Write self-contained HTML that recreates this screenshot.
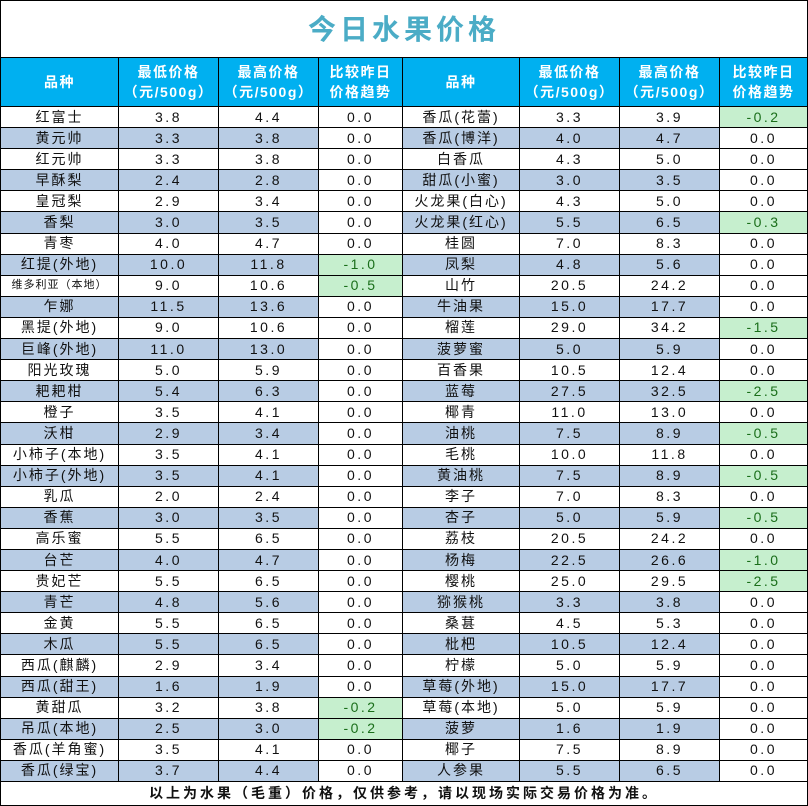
<!DOCTYPE html>
<html><head><meta charset="utf-8"><style>
body{margin:0;background:#fff;width:808px;height:806px;overflow:hidden;font-family:"Liberation Sans","Noto Sans CJK SC",sans-serif;}
table{position:absolute;left:0;top:0;border-collapse:collapse;table-layout:fixed;width:807px;}
td{border:1px solid #000;padding:0;text-align:center;font-size:14px;color:#111;white-space:nowrap;overflow:hidden;line-height:19px;letter-spacing:2px;}
tr.d td{height:20.1px;}
td.n{letter-spacing:2.5px;}
tr.s td.a{background:#B8CCE4;}
td.g{background:#C6EFCE;color:#1a6e1a;}
tr.h td{background:#00B0F0;color:#fff;font-weight:bold;font-size:14px;height:48px;line-height:20px;letter-spacing:1.5px;}
td.t{height:56px;font-size:28px;font-weight:bold;color:#4BACC6;letter-spacing:4px;border-bottom:1px solid #000;}
td.f{height:23px;font-weight:bold;font-size:14px;letter-spacing:3px;}
td.sm{font-size:11px;letter-spacing:1px;}
</style></head><body>
<table>
<colgroup><col style="width:118px"><col style="width:100px"><col style="width:100px"><col style="width:84px"><col style="width:117px"><col style="width:100px"><col style="width:100px"><col style="width:88px"></colgroup>
<tr><td class="t" colspan="8">今日水果价格</td></tr>
<tr class="h"><td>品种</td><td>最低价格<br>（元/500g）</td><td>最高价格<br>（元/500g）</td><td>比较昨日<br>价格趋势</td><td>品种</td><td>最低价格<br>（元/500g）</td><td>最高价格<br>（元/500g）</td><td>比较昨日<br>价格趋势</td></tr>
<tr class="d"><td class="a">红富士</td><td class="a n">3.8</td><td class="a n">4.4</td><td class="n">0.0</td><td class="a">香瓜(花蕾)</td><td class="a n">3.3</td><td class="a n">3.9</td><td class="n g">-0.2</td></tr>
<tr class="d s"><td class="a">黄元帅</td><td class="a n">3.3</td><td class="a n">3.8</td><td class="n">0.0</td><td class="a">香瓜(博洋)</td><td class="a n">4.0</td><td class="a n">4.7</td><td class="n">0.0</td></tr>
<tr class="d"><td class="a">红元帅</td><td class="a n">3.3</td><td class="a n">3.8</td><td class="n">0.0</td><td class="a">白香瓜</td><td class="a n">4.3</td><td class="a n">5.0</td><td class="n">0.0</td></tr>
<tr class="d s"><td class="a">早酥梨</td><td class="a n">2.4</td><td class="a n">2.8</td><td class="n">0.0</td><td class="a">甜瓜(小蜜)</td><td class="a n">3.0</td><td class="a n">3.5</td><td class="n">0.0</td></tr>
<tr class="d"><td class="a">皇冠梨</td><td class="a n">2.9</td><td class="a n">3.4</td><td class="n">0.0</td><td class="a">火龙果(白心)</td><td class="a n">4.3</td><td class="a n">5.0</td><td class="n">0.0</td></tr>
<tr class="d s"><td class="a">香梨</td><td class="a n">3.0</td><td class="a n">3.5</td><td class="n">0.0</td><td class="a">火龙果(红心)</td><td class="a n">5.5</td><td class="a n">6.5</td><td class="n g">-0.3</td></tr>
<tr class="d"><td class="a">青枣</td><td class="a n">4.0</td><td class="a n">4.7</td><td class="n">0.0</td><td class="a">桂圆</td><td class="a n">7.0</td><td class="a n">8.3</td><td class="n">0.0</td></tr>
<tr class="d s"><td class="a">红提(外地)</td><td class="a n">10.0</td><td class="a n">11.8</td><td class="n g">-1.0</td><td class="a">凤梨</td><td class="a n">4.8</td><td class="a n">5.6</td><td class="n">0.0</td></tr>
<tr class="d"><td class="a sm">维多利亚（本地）</td><td class="a n">9.0</td><td class="a n">10.6</td><td class="n g">-0.5</td><td class="a">山竹</td><td class="a n">20.5</td><td class="a n">24.2</td><td class="n">0.0</td></tr>
<tr class="d s"><td class="a">乍娜</td><td class="a n">11.5</td><td class="a n">13.6</td><td class="n">0.0</td><td class="a">牛油果</td><td class="a n">15.0</td><td class="a n">17.7</td><td class="n">0.0</td></tr>
<tr class="d"><td class="a">黑提(外地)</td><td class="a n">9.0</td><td class="a n">10.6</td><td class="n">0.0</td><td class="a">榴莲</td><td class="a n">29.0</td><td class="a n">34.2</td><td class="n g">-1.5</td></tr>
<tr class="d s"><td class="a">巨峰(外地)</td><td class="a n">11.0</td><td class="a n">13.0</td><td class="n">0.0</td><td class="a">菠萝蜜</td><td class="a n">5.0</td><td class="a n">5.9</td><td class="n">0.0</td></tr>
<tr class="d"><td class="a">阳光玫瑰</td><td class="a n">5.0</td><td class="a n">5.9</td><td class="n">0.0</td><td class="a">百香果</td><td class="a n">10.5</td><td class="a n">12.4</td><td class="n">0.0</td></tr>
<tr class="d s"><td class="a">耙耙柑</td><td class="a n">5.4</td><td class="a n">6.3</td><td class="n">0.0</td><td class="a">蓝莓</td><td class="a n">27.5</td><td class="a n">32.5</td><td class="n g">-2.5</td></tr>
<tr class="d"><td class="a">橙子</td><td class="a n">3.5</td><td class="a n">4.1</td><td class="n">0.0</td><td class="a">椰青</td><td class="a n">11.0</td><td class="a n">13.0</td><td class="n">0.0</td></tr>
<tr class="d s"><td class="a">沃柑</td><td class="a n">2.9</td><td class="a n">3.4</td><td class="n">0.0</td><td class="a">油桃</td><td class="a n">7.5</td><td class="a n">8.9</td><td class="n g">-0.5</td></tr>
<tr class="d"><td class="a">小柿子(本地)</td><td class="a n">3.5</td><td class="a n">4.1</td><td class="n">0.0</td><td class="a">毛桃</td><td class="a n">10.0</td><td class="a n">11.8</td><td class="n">0.0</td></tr>
<tr class="d s"><td class="a">小柿子(外地)</td><td class="a n">3.5</td><td class="a n">4.1</td><td class="n">0.0</td><td class="a">黄油桃</td><td class="a n">7.5</td><td class="a n">8.9</td><td class="n g">-0.5</td></tr>
<tr class="d"><td class="a">乳瓜</td><td class="a n">2.0</td><td class="a n">2.4</td><td class="n">0.0</td><td class="a">李子</td><td class="a n">7.0</td><td class="a n">8.3</td><td class="n">0.0</td></tr>
<tr class="d s"><td class="a">香蕉</td><td class="a n">3.0</td><td class="a n">3.5</td><td class="n">0.0</td><td class="a">杏子</td><td class="a n">5.0</td><td class="a n">5.9</td><td class="n g">-0.5</td></tr>
<tr class="d"><td class="a">高乐蜜</td><td class="a n">5.5</td><td class="a n">6.5</td><td class="n">0.0</td><td class="a">荔枝</td><td class="a n">20.5</td><td class="a n">24.2</td><td class="n">0.0</td></tr>
<tr class="d s"><td class="a">台芒</td><td class="a n">4.0</td><td class="a n">4.7</td><td class="n">0.0</td><td class="a">杨梅</td><td class="a n">22.5</td><td class="a n">26.6</td><td class="n g">-1.0</td></tr>
<tr class="d"><td class="a">贵妃芒</td><td class="a n">5.5</td><td class="a n">6.5</td><td class="n">0.0</td><td class="a">樱桃</td><td class="a n">25.0</td><td class="a n">29.5</td><td class="n g">-2.5</td></tr>
<tr class="d s"><td class="a">青芒</td><td class="a n">4.8</td><td class="a n">5.6</td><td class="n">0.0</td><td class="a">猕猴桃</td><td class="a n">3.3</td><td class="a n">3.8</td><td class="n">0.0</td></tr>
<tr class="d"><td class="a">金黄</td><td class="a n">5.5</td><td class="a n">6.5</td><td class="n">0.0</td><td class="a">桑葚</td><td class="a n">4.5</td><td class="a n">5.3</td><td class="n">0.0</td></tr>
<tr class="d s"><td class="a">木瓜</td><td class="a n">5.5</td><td class="a n">6.5</td><td class="n">0.0</td><td class="a">枇杷</td><td class="a n">10.5</td><td class="a n">12.4</td><td class="n">0.0</td></tr>
<tr class="d"><td class="a">西瓜(麒麟)</td><td class="a n">2.9</td><td class="a n">3.4</td><td class="n">0.0</td><td class="a">柠檬</td><td class="a n">5.0</td><td class="a n">5.9</td><td class="n">0.0</td></tr>
<tr class="d s"><td class="a">西瓜(甜王)</td><td class="a n">1.6</td><td class="a n">1.9</td><td class="n">0.0</td><td class="a">草莓(外地)</td><td class="a n">15.0</td><td class="a n">17.7</td><td class="n">0.0</td></tr>
<tr class="d"><td class="a">黄甜瓜</td><td class="a n">3.2</td><td class="a n">3.8</td><td class="n g">-0.2</td><td class="a">草莓(本地)</td><td class="a n">5.0</td><td class="a n">5.9</td><td class="n">0.0</td></tr>
<tr class="d s"><td class="a">吊瓜(本地)</td><td class="a n">2.5</td><td class="a n">3.0</td><td class="n g">-0.2</td><td class="a">菠萝</td><td class="a n">1.6</td><td class="a n">1.9</td><td class="n">0.0</td></tr>
<tr class="d"><td class="a">香瓜(羊角蜜)</td><td class="a n">3.5</td><td class="a n">4.1</td><td class="n">0.0</td><td class="a">椰子</td><td class="a n">7.5</td><td class="a n">8.9</td><td class="n">0.0</td></tr>
<tr class="d s"><td class="a">香瓜(绿宝)</td><td class="a n">3.7</td><td class="a n">4.4</td><td class="n">0.0</td><td class="a">人参果</td><td class="a n">5.5</td><td class="a n">6.5</td><td class="n">0.0</td></tr>
<tr><td class="f" colspan="8">以上为水果（毛重）价格，仅供参考，请以现场实际交易价格为准。</td></tr>
</table>
</body></html>
